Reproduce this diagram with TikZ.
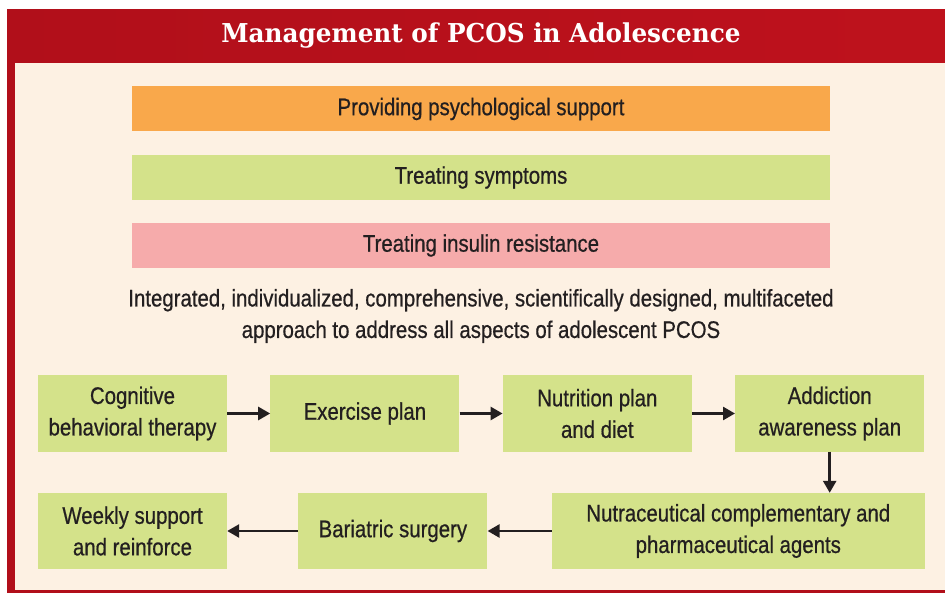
\documentclass[tikz,border=0pt]{standalone}
\usepackage{fontspec}
\setmainfont{Liberation Sans}[FakeStretch=0.85, FakeBold=0.6]
\newfontfamily\titlefont{DejaVu Serif}[FakeStretch=0.95]
\usetikzlibrary{positioning, arrows.meta}
\usepackage{xcolor}

\definecolor{frameRed}{HTML}{B10F1A}
\definecolor{brightRed}{HTML}{F21D26}
\definecolor{cream}{HTML}{FDF1E3}
\definecolor{ink}{HTML}{231F20}
\definecolor{bandOrange}{HTML}{F9A84B}
\definecolor{bandGreen}{HTML}{D4E28A}
\definecolor{bandPink}{HTML}{F6ABAB}

\begin{document}
\begin{tikzpicture}[x=1pt, y=-1pt, node distance=43pt,
    txt/.style={text=ink, font=\fontsize{24}{31.5}\selectfont},
    band/.style={txt, minimum width=698pt, minimum height=45pt, inner sep=0pt},
    box/.style={txt, fill=bandGreen, minimum width=189pt, minimum height=76pt,
        align=center, inner sep=0pt},
    flow/.style={draw=ink, line width=2.6pt, -{Triangle[length=12pt, width=13pt]}}]
    \useasboundingbox (0,0) rectangle (945,593);
    % frame and header
    \fill[frameRed] (7,10) rectangle (945,593);
    \fill[cream] (15,63) rectangle (945,590);
    \shade[left color=frameRed, middle color=brightRed, right color=frameRed!80!brightRed]
        (7,10) rectangle (945,63);
    \node[text=white, font=\titlefont\bfseries\fontsize{26}{30}\selectfont] (title) at (481,36)
        {Management of PCOS in Adolescence};

    % three bands
    \node[band, fill=bandOrange] (psych) at (481,109) {Providing psychological support};
    \node[band, fill=bandGreen] (symptoms) at (481,177.5) {Treating symptoms};
    \node[band, fill=bandPink] (insulin) at (481,245.5) {Treating insulin resistance};
    \node[txt, align=center] (approach) at (481,316)
        {Integrated, individualized, comprehensive, scientifically designed, multifaceted\\
         approach to address all aspects of adolescent PCOS};

    % flow of steps
    \node[box] (cbt) at (132.5,413.5) {Cognitive\\behavioral therapy};
    \node[box] (exercise) [right=of cbt] {Exercise plan};
    \node[box] (nutrition) [right=of exercise] {Nutrition plan\\and diet};
    \node[box] (addiction) [right=of nutrition] {Addiction\\awareness plan};
    \node[box] (weekly) at (132.5,531) {Weekly support\\and reinforce};
    \node[box] (bariatric) [right=71pt of weekly] {Bariatric surgery};
    \node[box, minimum width=373pt] (nutra) [right=64pt of bariatric]
        {Nutraceutical complementary and\\pharmaceutical agents};

    \draw[flow] (cbt) -- (exercise);
    \draw[flow] (exercise) -- (nutrition);
    \draw[flow] (nutrition) -- (addiction);
    \draw[flow] (addiction.south) -- (addiction.south |- nutra.north);
    \draw[flow] (nutra) -- (bariatric);
    \draw[flow] (bariatric) -- (weekly);
\end{tikzpicture}
\end{document}
